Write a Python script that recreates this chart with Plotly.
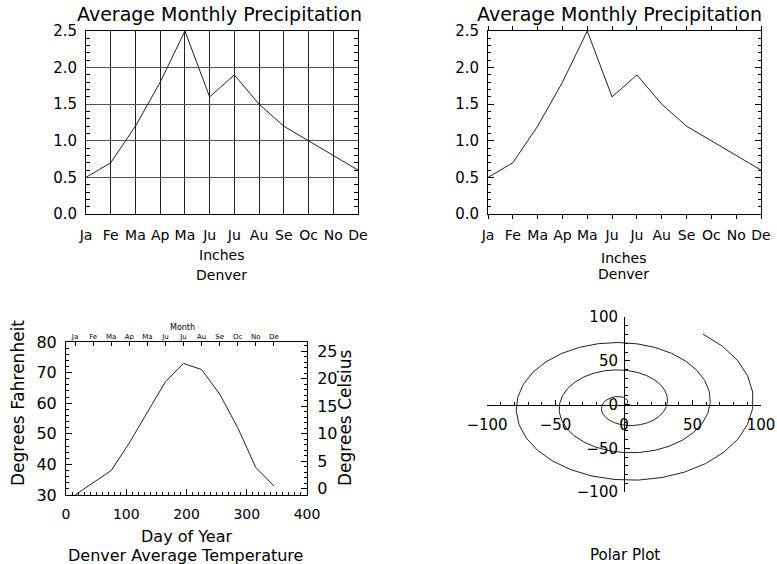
import numpy as np
import plotly.graph_objects as go

W, H = 777, 564
FONT = "DejaVu Sans"

MONTHS = ["Ja", "Fe", "Ma", "Ap", "Ma", "Ju", "Ju", "Au", "Se", "Oc", "No", "De"]
PRECIP = [0.5, 0.7, 1.2, 1.8, 2.5, 1.6, 1.9, 1.5, 1.2, 1.0, 0.8, 0.6]
DAYS = [15, 45, 75, 105, 135, 165, 195, 225, 255, 285, 315, 345]
TEMP_F = [30, 34, 38, 47, 57, 67, 73, 71, 63, 52, 39, 33]

# spiral for the polar panel
R = [
    0, 1, 2, 3, 4, 5, 6, 7, 8, 9,
    10, 11, 12, 13, 14, 15, 16, 17, 18, 19,
    20, 21, 22, 23, 24, 25, 26, 27, 28, 29,
    30, 31, 32, 33, 34, 35, 36, 37, 38, 39,
    40, 41, 42, 43, 44, 45, 46, 47, 48, 49,
    50, 51, 52, 53, 54, 55, 56, 57, 58, 59,
    60, 61, 62, 63, 64, 65, 66, 67, 68, 69,
    70, 71, 72, 73, 74, 75, 76, 77, 78, 79,
    80, 81, 82, 83, 84, 85, 86, 87, 88, 89,
    90, 91, 92, 93, 94, 95, 96, 97, 98, 99,
]
THETA = [
    0.0, 0.2, 0.4, 0.6, 0.8, 1.0, 1.2, 1.4, 1.6, 1.8,
    2.0, 2.2, 2.4, 2.6, 2.8, 3.0, 3.2, 3.4, 3.6, 3.8,
    4.0, 4.2, 4.4, 4.6, 4.8, 5.0, 5.2, 5.4, 5.6, 5.8,
    6.0, 6.2, 6.4, 6.6, 6.8, 7.0, 7.2, 7.4, 7.6, 7.8,
    8.0, 8.2, 8.4, 8.6, 8.8, 9.0, 9.2, 9.4, 9.6, 9.8,
    10.0, 10.2, 10.4, 10.6, 10.8, 11.0, 11.2, 11.4, 11.6, 11.8,
    12.0, 12.2, 12.4, 12.6, 12.8, 13.0, 13.2, 13.4, 13.6, 13.8,
    14.0, 14.2, 14.4, 14.6, 14.8, 15.0, 15.2, 15.4, 15.6, 15.8,
    16.0, 16.2, 16.4, 16.6, 16.8, 17.0, 17.2, 17.4, 17.6, 17.8,
    18.0, 18.2, 18.4, 18.6, 18.8, 19.0, 19.2, 19.4, 19.6, 19.8,
]


def fx(p):
    return p / W


def fy(p):
    return 1 - p / H


def f_to_c(f):
    return (f - 32) * 5 / 9


month_idx = list(range(len(MONTHS)))
temp_c = [f_to_c(t) for t in TEMP_F]
r = np.array(R, dtype=float)
th = np.array(THETA)
px_ = r * np.cos(th)
py_ = r * np.sin(th)

line = dict(color="#222", width=1)
fig = go.Figure()
fig.add_trace(go.Scatter(x=month_idx, y=PRECIP, mode="lines", line=line, xaxis="x", yaxis="y"))
fig.add_trace(go.Scatter(x=month_idx, y=PRECIP, mode="lines", line=line, xaxis="x2", yaxis="y2"))
fig.add_trace(go.Scatter(x=DAYS, y=TEMP_F, mode="lines", line=line, xaxis="x3", yaxis="y3"))
fig.add_trace(go.Scatter(x=DAYS, y=temp_c, mode="lines", line=dict(width=0), opacity=0,
                         hoverinfo="skip", xaxis="x5", yaxis="y5"))
fig.add_trace(go.Scatter(x=px_, y=py_, mode="lines", line=line, xaxis="x4", yaxis="y4"))


def ax(**kw):
    d = dict(showline=True, linecolor="black", linewidth=1, zeroline=False,
             showgrid=False, tickcolor="black", fixedrange=True, automargin=False,
             tickfont=dict(family=FONT, size=14, color="black"))
    d.update(kw)
    return d


top_y = [fy(214), fy(31)]

fig.update_layout(
    width=W, height=H,
    margin=dict(l=0, r=0, t=0, b=0, autoexpand=False),
    paper_bgcolor="white", plot_bgcolor="white",
    showlegend=False,
    # top left: gridded
    xaxis=ax(domain=[fx(86), fx(358)], range=[0, 11], anchor="y",
             tickvals=month_idx, ticktext=MONTHS, ticks="", mirror=True,
             showgrid=True, gridcolor="#222", ticklabelstandoff=8),
    yaxis=ax(domain=top_y, range=[0, 2.5], anchor="x", dtick=0.5, tickformat=".1f",
             ticks="", mirror="allticks", showgrid=True, gridcolor="#555",
             minor=dict(ticks="inside", ticklen=4, dtick=0.1, tickcolor="black"),
             ticklabelstandoff=5, tickfont=dict(family=FONT, size=15, color="black")),
    # top right: ticks only
    xaxis2=ax(domain=[fx(488), fx(761)], range=[0, 11], anchor="y2",
              tickvals=month_idx, ticktext=MONTHS, ticks="outside", ticklen=4,
              mirror="allticks", ticklabelstandoff=4),
    yaxis2=ax(domain=top_y, range=[0, 2.5], anchor="x2", dtick=0.5, tickformat=".1f",
              ticks="inside", ticklen=6, mirror="allticks",
              minor=dict(ticks="inside", ticklen=3, dtick=0.1, tickcolor="black"),
              ticklabelstandoff=5, tickfont=dict(family=FONT, size=15, color="black")),
    # bottom left: temperature with F / C axes
    xaxis3=ax(domain=[fx(66), fx(307)], range=[0, 400], anchor="y3", dtick=100,
              ticks="inside", ticklen=6,
              minor=dict(ticks="inside", ticklen=3, dtick=10, tickcolor="black"),
              ticklabelstandoff=6),
    yaxis3=ax(domain=[fy(495), fy(342)], range=[30, 80], anchor="x3", dtick=10,
              ticks="inside", ticklen=6,
              minor=dict(ticks="inside", ticklen=3, dtick=2, tickcolor="black"),
              ticklabelstandoff=5, tickfont=dict(family=FONT, size=16, color="black")),
    xaxis5=ax(overlaying="x3", anchor="y3", side="top", range=[0, 400],
              tickvals=DAYS, ticktext=MONTHS, ticks="inside", ticklen=4,
              ticklabelstandoff=-1, tickfont=dict(family=FONT, size=7, color="black")),
    yaxis5=ax(overlaying="y3", anchor="x3", side="right", range=[f_to_c(30), f_to_c(80)],
              dtick=5, ticks="inside", ticklen=6,
              minor=dict(ticks="inside", ticklen=3, dtick=1, tickcolor="black"),
              ticklabelstandoff=6, tickfont=dict(family=FONT, size=16, color="black")),
    # bottom right: polar spiral, axes through the origin
    xaxis4=ax(domain=[fx(487), fx(761)], range=[-100, 100], anchor="free",
              position=(fy(317) + fy(492)) / 2, dtick=50, ticks="inside", ticklen=5,
              minor=dict(ticks="inside", ticklen=3, dtick=10, tickcolor="black"),
              ticklabelstandoff=6, tickfont=dict(family=FONT, size=15, color="black")),
    yaxis4=ax(domain=[fy(492), fy(317)], range=[-100, 100], anchor="free",
              position=(fx(487) + fx(761)) / 2, dtick=50, ticks="inside", ticklen=5,
              minor=dict(ticks="inside", ticklen=3, dtick=10, tickcolor="black"),
              ticklabelstandoff=3, tickfont=dict(family=FONT, size=15, color="black")),
)


def label(text, x, y, size, angle=0):
    fig.add_annotation(text=text, x=fx(x), y=fy(y), xref="paper", yref="paper",
                       showarrow=False, textangle=angle, xanchor="center", yanchor="middle",
                       font=dict(family=FONT, size=size, color="black"))


label("Average Monthly Precipitation", 219, 14, 19)
label("Average Monthly Precipitation", 619, 14, 19)
label("Inches", 221, 255, 14)
label("Denver", 221, 275, 14)
label("Inches", 623, 258, 14)
label("Denver", 623, 274, 14)
label("Month", 182, 327, 8)
label("Day of Year", 186, 536, 16)
label("Denver Average Temperature", 185, 555, 16)
label("Degrees Fahrenheit", 18, 403, 17, -90)
label("Degrees Celsius", 345, 418, 17, -90)
label("Polar Plot", 625, 555, 15)

# the page's default body margin would shift the figure by 8px
fig.write_html("out.html", config={"displayModeBar": False},
               post_script="document.body.style.margin='0';")
